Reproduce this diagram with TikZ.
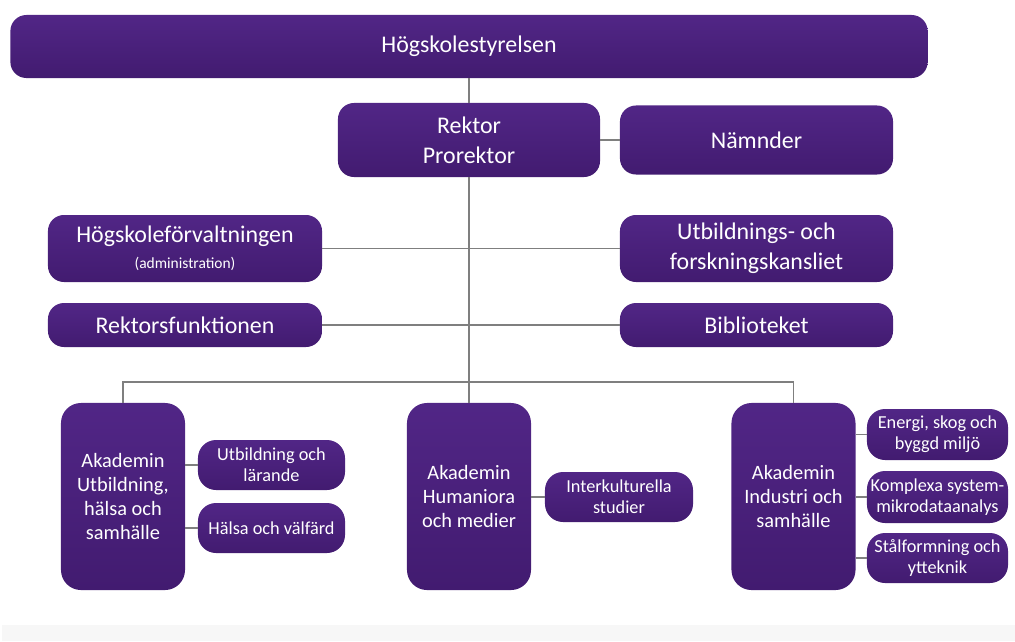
\documentclass[tikz,border=0pt]{standalone}
\usepackage{fontspec}
\setmainfont{Carlito}
\usepackage{xcolor}
\usepackage{tikz}
\usetikzlibrary{positioning}

\definecolor{hdtop}{HTML}{512686}
\definecolor{hdbot}{HTML}{421B70}
\definecolor{hdline}{HTML}{7F7F7F}
\definecolor{hdband}{HTML}{F7F7F7}

\tikzset{
  unit/.style={rounded corners=0.4cm, top color=hdtop, bottom color=hdbot, text=white, align=center, inner sep=0pt},
  big/.style={unit, font=\fontsize{17}{21.5}\selectfont},
  akad/.style={unit, rounded corners=0.5cm, minimum width=3.1cm, minimum height=4.675cm, font=\fontsize{14.5}{17}\selectfont},
  sub/.style={unit, rounded corners=0.45cm, font=\fontsize{13}{15}\selectfont},
  link/.style={draw=hdline, line width=0.9pt}
}

\begin{document}
\begin{tikzpicture}[x=0.025cm, y=-0.025cm]
  \useasboundingbox (0,0) rectangle (1015,641);
  \fill[hdband] (2,625) rectangle (1015,641);

  \node[big, minimum width=22.925cm, minimum height=1.575cm] (styr) at (469,46.5) {Högskolestyrelsen};
  \node[big, minimum width=6.55cm, minimum height=1.85cm] (rektor) at (469,140) {Rektor\\Prorektor};
  \node[big, minimum width=6.825cm, minimum height=1.725cm] (namnd) at (756.5,140) {Nämnder};
  \node[big, minimum width=6.85cm, minimum height=1.675cm] (forv) at (185,248.5) {Högskoleförvaltningen\\[-3pt]{\fontsize{11}{12}\selectfont (administration)}};
  \node[big, minimum width=6.825cm, minimum height=1.675cm] (ufk) at (756.5,248.5) {Utbildnings- och\\forskningskansliet};
  \node[big, minimum width=6.85cm, minimum height=1.1cm] (rfun) at (185,325) {Rektorsfunktionen};
  \node[big, minimum width=6.825cm, minimum height=1.1cm] (bibl) at (756.5,325) {Biblioteket};

  \node[akad] (ak1) at (123,496.5) {Akademin\\Utbildning,\\hälsa och\\samhälle};
  \node[akad] (ak2) at (469,496.5) {Akademin\\Humaniora\\och medier};
  \node[akad] (ak3) at (793.5,496.5) {Akademin\\Industri och\\samhälle};

  \node[sub, minimum width=3.675cm, minimum height=1.25cm] (ul) at (271.5,465) {Utbildning och\\lärande};
  \node[sub, minimum width=3.675cm, minimum height=1.25cm] (hv) at (271.5,528) {Hälsa och välfärd};
  \node[sub, minimum width=3.7cm, minimum height=1.25cm] (ik) at (619,497) {Interkulturella\\studier};
  \node[sub, minimum width=3.525cm, minimum height=1.275cm] (en) at (937.5,434.5) {Energi, skog och\\byggd miljö};
  \node[sub, minimum width=3.525cm, minimum height=1.3cm] (ks) at (937.5,497) {Komplexa system-\\mikrodataanalys};
  \node[sub, minimum width=3.525cm, minimum height=1.25cm] (st) at (937.5,558) {Stålformning och\\ytteknik};

  \coordinate (bus) at (469,382);
  \draw[link] (styr) -- (rektor);
  \draw[link] (rektor) -- (namnd);
  \draw[link] (rektor) -- (bus);
  \draw[link] (forv) -- (ufk);
  \draw[link] (rfun) -- (bibl);
  \draw[link] (ak1.north) |- (bus) -| (ak3.north);
  \draw[link] (bus) -- (ak2.north);
  \draw[link] (ul.west) -- (ul.west -| ak1.east);
  \draw[link] (hv.west) -- (hv.west -| ak1.east);
  \draw[link] (ik.west) -- (ik.west -| ak2.east);
  \draw[link] (en.west) -- (en.west -| ak3.east);
  \draw[link] (ks.west) -- (ks.west -| ak3.east);
  \draw[link] (st.west) -- (st.west -| ak3.east);
\end{tikzpicture}
\end{document}
